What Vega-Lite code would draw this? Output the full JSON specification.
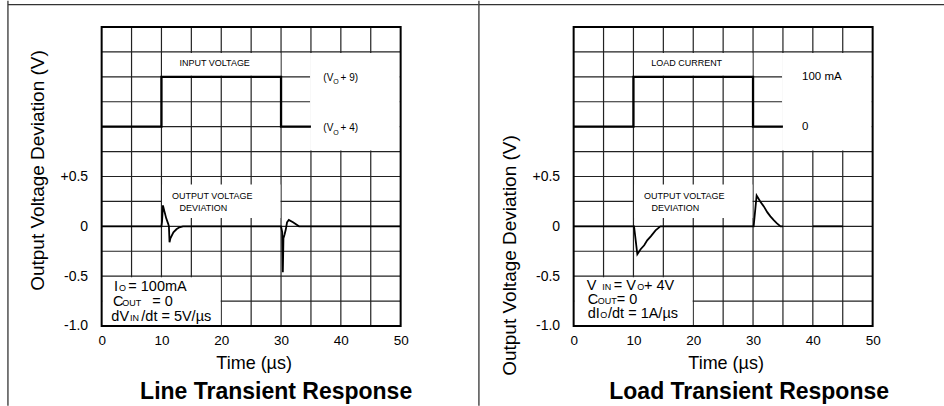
{
  "$schema": "https://vega.github.io/schema/vega-lite/v6.json",
  "autosize": {"type": "pad"},
  "padding": {"left": 6.65, "top": 0, "right": 0, "bottom": 0},
  "background": "white",
  "config": {
    "font": "Liberation Sans",
    "view": {"stroke": null},
    "text": {"color": "#000"}
  },
  "datasets": {
    "gridx": [{"t": 5}, {"t": 10}, {"t": 15}, {"t": 20}, {"t": 25}, {"t": 30}, {"t": 35}, {"t": 40}, {"t": 45}],
    "gridy": [{"v": -0.75}, {"v": -0.5}, {"v": -0.25}, {"v": 0}, {"v": 0.25}, {"v": 0.5}, {"v": 0.75}, {"v": 1}, {"v": 1.25}, {"v": 1.5}, {"v": 1.75}],
    "trace": [
      {"p": "line", "s": "in", "t": 0, "v": 1}, {"p": "line", "s": "in", "t": 10, "v": 1}, {"p": "line", "s": "in", "t": 10, "v": 1.5}, {"p": "line", "s": "in", "t": 30, "v": 1.5}, {"p": "line", "s": "in", "t": 30, "v": 1}, {"p": "line", "s": "in", "t": 35, "v": 1},
      {"p": "line", "s": "out", "t": 0, "v": 0}, {"p": "line", "s": "out", "t": 10, "v": 0}, {"p": "line", "s": "out", "t": 10.1, "v": 0.05}, {"p": "line", "s": "out", "t": 10.25, "v": 0.21}, {"p": "line", "s": "out", "t": 10.5, "v": 0.15}, {"p": "line", "s": "out", "t": 10.8, "v": 0.08}, {"p": "line", "s": "out", "t": 11.1, "v": 0.03}, {"p": "line", "s": "out", "t": 11.25, "v": 0.0}, {"p": "line", "s": "out", "t": 11.35, "v": -0.16}, {"p": "line", "s": "out", "t": 11.5, "v": -0.12}, {"p": "line", "s": "out", "t": 12, "v": -0.06}, {"p": "line", "s": "out", "t": 12.5, "v": -0.03}, {"p": "line", "s": "out", "t": 13, "v": -0.01}, {"p": "line", "s": "out", "t": 13.6, "v": 0}, {"p": "line", "s": "out", "t": 30, "v": 0}, {"p": "line", "s": "out", "t": 30.1, "v": -0.03}, {"p": "line", "s": "out", "t": 30.2, "v": -0.06}, {"p": "line", "s": "out", "t": 30.3, "v": -0.46}, {"p": "line", "s": "out", "t": 30.4, "v": -0.12}, {"p": "line", "s": "out", "t": 30.6, "v": -0.08}, {"p": "line", "s": "out", "t": 30.8, "v": -0.03}, {"p": "line", "s": "out", "t": 31.0, "v": 0.04}, {"p": "line", "s": "out", "t": 31.3, "v": 0.065}, {"p": "line", "s": "out", "t": 32, "v": 0.04}, {"p": "line", "s": "out", "t": 32.5, "v": 0.02}, {"p": "line", "s": "out", "t": 33, "v": 0}, {"p": "line", "s": "out", "t": 50, "v": 0},
      {"p": "load", "s": "in", "t": 0, "v": 1}, {"p": "load", "s": "in", "t": 10, "v": 1}, {"p": "load", "s": "in", "t": 10, "v": 1.5}, {"p": "load", "s": "in", "t": 30, "v": 1.5}, {"p": "load", "s": "in", "t": 30, "v": 1}, {"p": "load", "s": "in", "t": 35, "v": 1},
      {"p": "load", "s": "out", "t": 0, "v": 0}, {"p": "load", "s": "out", "t": 10.1, "v": 0}, {"p": "load", "s": "out", "t": 10.65, "v": -0.28}, {"p": "load", "s": "out", "t": 11.2, "v": -0.23}, {"p": "load", "s": "out", "t": 11.8, "v": -0.19}, {"p": "load", "s": "out", "t": 12.3, "v": -0.14}, {"p": "load", "s": "out", "t": 12.9, "v": -0.1}, {"p": "load", "s": "out", "t": 13.7, "v": -0.04}, {"p": "load", "s": "out", "t": 14.5, "v": 0}, {"p": "load", "s": "out", "t": 30.1, "v": 0}, {"p": "load", "s": "out", "t": 30.6, "v": 0.31}, {"p": "load", "s": "out", "t": 31.2, "v": 0.25}, {"p": "load", "s": "out", "t": 31.8, "v": 0.2}, {"p": "load", "s": "out", "t": 32.4, "v": 0.14}, {"p": "load", "s": "out", "t": 32.9, "v": 0.1}, {"p": "load", "s": "out", "t": 33.5, "v": 0.06}, {"p": "load", "s": "out", "t": 34.0, "v": 0.03}, {"p": "load", "s": "out", "t": 34.6, "v": 0}, {"p": "load", "s": "out", "t": 35, "v": 0},
      {"p": "load", "s": "out2", "t": 40, "v": 0}, {"p": "load", "s": "out2", "t": 45, "v": 0}
    ],
    "boxes": [
      {"p": "line", "t1": 10.1, "t2": 29.9, "v1": 1.51, "v2": 1.74},
      {"p": "line", "t1": 34.85, "t2": 49.85, "v1": 0.76, "v2": 1.74},
      {"p": "line", "t1": 10.1, "t2": 29.9, "v1": 0.084, "v2": 0.42},
      {"p": "line", "t1": 0.1, "t2": 19.9, "v1": -0.99, "v2": -0.51},
      {"p": "load", "t1": 10.1, "t2": 29.9, "v1": 1.51, "v2": 1.74},
      {"p": "load", "t1": 34.85, "t2": 49.85, "v1": 0.76, "v2": 1.74},
      {"p": "load", "t1": 10.1, "t2": 29.9, "v1": 0.084, "v2": 0.42},
      {"p": "load", "t1": 0.1, "t2": 19.9, "v1": -0.99, "v2": -0.51}
    ],
    "border": [
      {"p": "line", "t1": 0, "t2": 50, "v1": -1, "v2": 2},
      {"p": "load", "t1": 0, "t2": 50, "v1": -1, "v2": 2}
    ],
    "frame": [
      {"p": "line", "t1": -15.67, "t2": -15.67, "v1": 2.264, "v2": -1.8},
      {"p": "line", "t1": -15.67, "t2": 63.05, "v1": 2.224, "v2": 2.224},
      {"p": "load", "t1": -15.84, "t2": -15.84, "v1": 2.264, "v2": -1.8},
      {"p": "load", "t1": -15.84, "t2": 62.04, "v1": 2.224, "v2": 2.224}
    ],
    "texts": [
      {"p": "line", "role": "cap", "t": 18.9, "v": 1.64, "text": "INPUT VOLTAGE"},
      {"p": "line", "role": "cap", "t": 18.5, "v": 0.3, "text": "OUTPUT VOLTAGE"},
      {"p": "line", "role": "cap", "t": 17.0, "v": 0.18, "text": "DEVIATION"},
      {"p": "line", "role": "lvl", "t": 37.07, "v": 1.49, "text": "(V"},
      {"p": "line", "role": "lvl", "t": 39.96, "v": 1.49, "text": "+ 9)"},
      {"p": "line", "role": "lvlsub", "t": 38.75, "v": 1.445, "text": "O"},
      {"p": "line", "role": "lvl", "t": 37.07, "v": 0.987, "text": "(V"},
      {"p": "line", "role": "lvl", "t": 39.96, "v": 0.987, "text": "+ 4)"},
      {"p": "line", "role": "lvlsub", "t": 38.75, "v": 0.94, "text": "O"},
      {"p": "line", "role": "note", "t": 2.06, "v": -0.652, "text": "I"},
      {"p": "line", "role": "notesub", "t": 2.9, "v": -0.652, "text": "O"},
      {"p": "line", "role": "note", "t": 4.46, "v": -0.652, "text": "= 100mA"},
      {"p": "line", "role": "note", "t": 1.9, "v": -0.803, "text": "C"},
      {"p": "line", "role": "notesub", "t": 3.45, "v": -0.803, "text": "OUT"},
      {"p": "line", "role": "note", "t": 8.47, "v": -0.803, "text": "= 0"},
      {"p": "line", "role": "note", "t": 1.62, "v": -0.953, "text": "dV"},
      {"p": "line", "role": "notesub", "t": 4.74, "v": -0.953, "text": "IN"},
      {"p": "line", "role": "note", "t": 6.63, "v": -0.953, "text": "/dt = 5V/µs"},
      {"p": "load", "role": "cap", "t": 18.9, "v": 1.64, "text": "LOAD CURRENT"},
      {"p": "load", "role": "cap", "t": 18.5, "v": 0.3, "text": "OUTPUT VOLTAGE"},
      {"p": "load", "role": "cap", "t": 17.0, "v": 0.18, "text": "DEVIATION"},
      {"p": "load", "role": "lvl", "t": 38.2, "v": 1.5, "text": "100 mA"},
      {"p": "load", "role": "lvl", "t": 38.2, "v": 1.0, "text": "0"},
      {"p": "load", "role": "note", "t": 2.2, "v": -0.642, "text": "V"},
      {"p": "load", "role": "notesub", "t": 4.8, "v": -0.642, "text": "IN"},
      {"p": "load", "role": "note", "t": 6.7, "v": -0.642, "text": "= V"},
      {"p": "load", "role": "notesub", "t": 10.65, "v": -0.642, "text": "O"},
      {"p": "load", "role": "note", "t": 11.75, "v": -0.642, "text": "+ 4V"},
      {"p": "load", "role": "note", "t": 2.34, "v": -0.776, "text": "C"},
      {"p": "load", "role": "notesub", "t": 4.05, "v": -0.776, "text": "OUT"},
      {"p": "load", "role": "note", "t": 7.2, "v": -0.776, "text": "= 0"},
      {"p": "load", "role": "note", "t": 2.34, "v": -0.919, "text": "dI"},
      {"p": "load", "role": "notesub", "t": 4.45, "v": -0.919, "text": "O"},
      {"p": "load", "role": "note", "t": 5.75, "v": -0.919, "text": "/dt = 1A/µs"}
    ]
  },
  "hconcat": [
    {
      "width": 299,
      "height": 299,
      "title": {"text": "Line Transient Response", "orient": "bottom", "anchor": "middle", "frame": "group", "dx": 25, "offset": -7, "baseline": "alphabetic", "fontSize": 23, "fontWeight": "bold", "color": "#000"},
      "layer": [
        {
          "data": {"name": "gridx"},
          "mark": {"type": "rule", "color": "#222", "strokeWidth": 1.2},
          "encoding": {
            "x": {"field": "t", "type": "quantitative", "scale": {"domain": [0, 50], "nice": false, "zero": false},
              "axis": {"values": [0, 10, 20, 30, 40, 50], "grid": false, "ticks": false, "domain": false, "labelFontSize": 13.5, "labelPadding": 8, "labelFlush": false, "labelOverlap": false, "labelColor": "#000", "title": "Time (µs)", "titleFontSize": 18, "titleFontWeight": "normal", "titleColor": "#000", "titleX": 152, "titleY": 38, "titleBaseline": "middle", "titleAlign": "center"}}
          }
        },
        {
          "data": {"name": "gridy"},
          "mark": {"type": "rule", "color": "#222", "strokeWidth": 1.2},
          "encoding": {
            "y": {"field": "v", "type": "quantitative", "scale": {"domain": [-1, 2], "nice": false, "zero": false},
              "axis": {"values": [-1, -0.5, 0, 0.5], "labelExpr": "datum.value === 0.5 ? '+0.5' : datum.value === 0 ? '0' : datum.value === -0.5 ? '-0.5' : '-1.0'", "grid": false, "ticks": false, "domain": false, "labelFontSize": 14, "labelPadding": 14, "labelAlign": "right", "labelBaseline": "middle", "labelFlush": false, "labelOverlap": false, "labelColor": "#000", "title": "Output Voltage Deviation (V)", "titleFontSize": 19, "titleFontWeight": "normal", "titleColor": "#000", "titleX": -64, "titleY": 143, "titleAngle": 270, "titleBaseline": "middle", "titleAlign": "center"}}
          }
        },
        {
          "data": {"name": "boxes"},
          "transform": [{"filter": "datum.p === 'line'"}],
          "mark": {"type": "rect", "fill": "white", "stroke": null},
          "encoding": {"x": {"field": "t1", "type": "quantitative"}, "x2": {"field": "t2"}, "y": {"field": "v1", "type": "quantitative"}, "y2": {"field": "v2"}}
        },
        {
          "data": {"name": "trace"},
          "transform": [{"filter": "datum.p === 'line' && datum.s === 'out'"}],
          "mark": {"type": "line", "color": "#000", "strokeWidth": 1.8},
          "encoding": {"x": {"field": "t", "type": "quantitative"}, "y": {"field": "v", "type": "quantitative"}, "order": {"value": null}}
        },
        {
          "data": {"name": "trace"},
          "transform": [{"filter": "datum.p === 'line' && datum.s === 'in'"}],
          "mark": {"type": "line", "color": "#000", "strokeWidth": 2.3},
          "encoding": {"x": {"field": "t", "type": "quantitative"}, "y": {"field": "v", "type": "quantitative"}, "order": {"value": null}}
        },
        {
          "data": {"name": "border"},
          "transform": [{"filter": "datum.p === 'line'"}],
          "mark": {"type": "rect", "fill": "white", "fillOpacity": 0, "stroke": "#000", "strokeWidth": 2},
          "encoding": {"x": {"field": "t1", "type": "quantitative"}, "x2": {"field": "t2"}, "y": {"field": "v1", "type": "quantitative"}, "y2": {"field": "v2"}}
        },
        {
          "data": {"name": "frame"},
          "transform": [{"filter": "datum.p === 'line'"}],
          "mark": {"type": "rule", "color": "#333", "strokeWidth": 1.3},
          "encoding": {"x": {"field": "t1", "type": "quantitative"}, "x2": {"field": "t2"}, "y": {"field": "v1", "type": "quantitative"}, "y2": {"field": "v2"}}
        },
        {
          "data": {"name": "texts"},
          "transform": [{"filter": "datum.p === 'line' && datum.role === 'cap'"}],
          "mark": {"type": "text", "fontSize": 9, "align": "center", "baseline": "middle"},
          "encoding": {"x": {"field": "t", "type": "quantitative"}, "y": {"field": "v", "type": "quantitative"}, "text": {"field": "text"}}
        },
        {
          "data": {"name": "texts"},
          "transform": [{"filter": "datum.p === 'line' && datum.role === 'lvl'"}],
          "mark": {"type": "text", "fontSize": 10, "align": "left", "baseline": "middle"},
          "encoding": {"x": {"field": "t", "type": "quantitative"}, "y": {"field": "v", "type": "quantitative"}, "text": {"field": "text"}}
        },
        {
          "data": {"name": "texts"},
          "transform": [{"filter": "datum.p === 'line' && datum.role === 'lvlsub'"}],
          "mark": {"type": "text", "fontSize": 7, "align": "left", "baseline": "middle"},
          "encoding": {"x": {"field": "t", "type": "quantitative"}, "y": {"field": "v", "type": "quantitative"}, "text": {"field": "text"}}
        },
        {
          "data": {"name": "texts"},
          "transform": [{"filter": "datum.p === 'line' && datum.role === 'note'"}],
          "mark": {"type": "text", "fontSize": 14.5, "align": "left", "baseline": "alphabetic"},
          "encoding": {"x": {"field": "t", "type": "quantitative"}, "y": {"field": "v", "type": "quantitative"}, "text": {"field": "text"}}
        },
        {
          "data": {"name": "texts"},
          "transform": [{"filter": "datum.p === 'line' && datum.role === 'notesub'"}],
          "mark": {"type": "text", "fontSize": 9, "align": "left", "baseline": "alphabetic"},
          "encoding": {"x": {"field": "t", "type": "quantitative"}, "y": {"field": "v", "type": "quantitative"}, "text": {"field": "text"}}
        }
      ]
    },
    {
      "width": 299,
      "height": 299,
      "title": {"text": "Load Transient Response", "orient": "bottom", "anchor": "middle", "frame": "group", "dx": 26, "offset": -7, "baseline": "alphabetic", "fontSize": 23, "fontWeight": "bold", "color": "#000"},
      "layer": [
        {
          "data": {"name": "gridx"},
          "mark": {"type": "rule", "color": "#222", "strokeWidth": 1.2},
          "encoding": {
            "x": {"field": "t", "type": "quantitative", "scale": {"domain": [0, 50], "nice": false, "zero": false},
              "axis": {"values": [0, 10, 20, 30, 40, 50], "grid": false, "ticks": false, "domain": false, "labelFontSize": 13.5, "labelPadding": 8, "labelFlush": false, "labelOverlap": false, "labelColor": "#000", "title": "Time (µs)", "titleFontSize": 18, "titleFontWeight": "normal", "titleColor": "#000", "titleX": 152, "titleY": 38, "titleBaseline": "middle", "titleAlign": "center"}}
          }
        },
        {
          "data": {"name": "gridy"},
          "mark": {"type": "rule", "color": "#222", "strokeWidth": 1.2},
          "encoding": {
            "y": {"field": "v", "type": "quantitative", "scale": {"domain": [-1, 2], "nice": false, "zero": false},
              "axis": {"values": [-1, -0.5, 0, 0.5], "labelExpr": "datum.value === 0.5 ? '+0.5' : datum.value === 0 ? '0' : datum.value === -0.5 ? '-0.5' : '-1.0'", "grid": false, "ticks": false, "domain": false, "labelFontSize": 14, "labelPadding": 14, "labelAlign": "right", "labelBaseline": "middle", "labelFlush": false, "labelOverlap": false, "labelColor": "#000", "title": "Output Voltage Deviation (V)", "titleFontSize": 19, "titleFontWeight": "normal", "titleColor": "#000", "titleX": -64, "titleY": 228, "titleAngle": 270, "titleBaseline": "middle", "titleAlign": "center"}}
          }
        },
        {
          "data": {"name": "boxes"},
          "transform": [{"filter": "datum.p === 'load'"}],
          "mark": {"type": "rect", "fill": "white", "stroke": null},
          "encoding": {"x": {"field": "t1", "type": "quantitative"}, "x2": {"field": "t2"}, "y": {"field": "v1", "type": "quantitative"}, "y2": {"field": "v2"}}
        },
        {
          "data": {"name": "trace"},
          "transform": [{"filter": "datum.p === 'load' && datum.s !== 'in'"}],
          "mark": {"type": "line", "color": "#000", "strokeWidth": 1.8},
          "encoding": {"x": {"field": "t", "type": "quantitative"}, "y": {"field": "v", "type": "quantitative"}, "detail": {"field": "s"}, "order": {"value": null}}
        },
        {
          "data": {"name": "trace"},
          "transform": [{"filter": "datum.p === 'load' && datum.s === 'in'"}],
          "mark": {"type": "line", "color": "#000", "strokeWidth": 2.3},
          "encoding": {"x": {"field": "t", "type": "quantitative"}, "y": {"field": "v", "type": "quantitative"}, "order": {"value": null}}
        },
        {
          "data": {"name": "border"},
          "transform": [{"filter": "datum.p === 'load'"}],
          "mark": {"type": "rect", "fill": "white", "fillOpacity": 0, "stroke": "#000", "strokeWidth": 2},
          "encoding": {"x": {"field": "t1", "type": "quantitative"}, "x2": {"field": "t2"}, "y": {"field": "v1", "type": "quantitative"}, "y2": {"field": "v2"}}
        },
        {
          "data": {"name": "frame"},
          "transform": [{"filter": "datum.p === 'load'"}],
          "mark": {"type": "rule", "color": "#333", "strokeWidth": 1.3},
          "encoding": {"x": {"field": "t1", "type": "quantitative"}, "x2": {"field": "t2"}, "y": {"field": "v1", "type": "quantitative"}, "y2": {"field": "v2"}}
        },
        {
          "data": {"name": "texts"},
          "transform": [{"filter": "datum.p === 'load' && datum.role === 'cap'"}],
          "mark": {"type": "text", "fontSize": 9, "align": "center", "baseline": "middle"},
          "encoding": {"x": {"field": "t", "type": "quantitative"}, "y": {"field": "v", "type": "quantitative"}, "text": {"field": "text"}}
        },
        {
          "data": {"name": "texts"},
          "transform": [{"filter": "datum.p === 'load' && datum.role === 'lvl'"}],
          "mark": {"type": "text", "fontSize": 11.5, "align": "left", "baseline": "middle"},
          "encoding": {"x": {"field": "t", "type": "quantitative"}, "y": {"field": "v", "type": "quantitative"}, "text": {"field": "text"}}
        },
        {
          "data": {"name": "texts"},
          "transform": [{"filter": "datum.p === 'load' && datum.role === 'note'"}],
          "mark": {"type": "text", "fontSize": 14.5, "align": "left", "baseline": "alphabetic"},
          "encoding": {"x": {"field": "t", "type": "quantitative"}, "y": {"field": "v", "type": "quantitative"}, "text": {"field": "text"}}
        },
        {
          "data": {"name": "texts"},
          "transform": [{"filter": "datum.p === 'load' && datum.role === 'notesub'"}],
          "mark": {"type": "text", "fontSize": 9, "align": "left", "baseline": "alphabetic"},
          "encoding": {"x": {"field": "t", "type": "quantitative"}, "y": {"field": "v", "type": "quantitative"}, "text": {"field": "text"}}
        }
      ]
    }
  ],
  "spacing": 173,
  "bounds": "flush"
}
